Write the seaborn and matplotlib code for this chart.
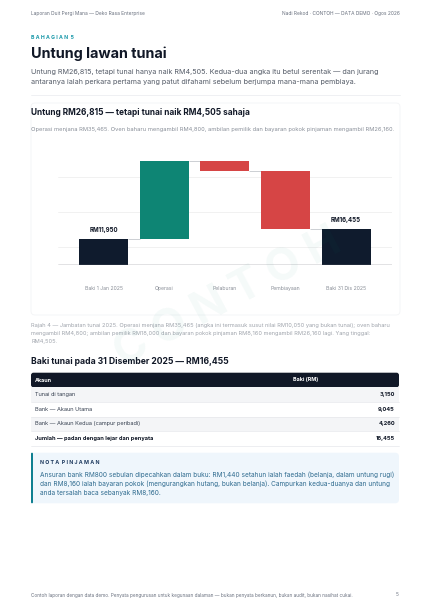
import numpy as np
import pandas as pd
import seaborn as sns
import matplotlib.pyplot as plt
from matplotlib.patches import FancyBboxPatch, Rectangle

# data
categories = ["Baki 1 Jan 2025", "Operasi", "Pelaburan", "Pembiayaan", "Baki 31 Dis 2025"]
changes = [11950, 35465, -4800, -26160, 16455]
kinds = ["total", "up", "down", "down", "total"]

table_accounts = ["Tunai di tangan", "Bank — Akaun Utama", "Bank — Akaun Kedua (campur peribadi)",
                  "Jumlah — padan dengan lejar dan penyata"]
table_values = ["3,150", "9,045", "4,260", "16,455"]

# waterfall bottoms / heights
running = 0
bottoms, heights, levels = [], [], []
for c, k in zip(changes, kinds):
    if k == "total":
        bottoms.append(0)
        heights.append(c)
        running = c
    else:
        new = running + c
        bottoms.append(min(running, new))
        heights.append(abs(c))
        running = new
    levels.append(running)
wf = pd.DataFrame({"cat": categories, "h": heights, "b": bottoms, "kind": kinds})

sns.set_theme(style="white")
plt.rcParams['font.family'] = ['Inter', 'DejaVu Sans']

W, H = 430, 609
fig = plt.figure(figsize=(W / 100, H / 100), dpi=100)
fig.patch.set_facecolor("white")

bg = fig.add_axes([0, 0, 1, 1])
bg.set_xlim(0, W)
bg.set_ylim(H, 0)
bg.axis("off")
bg.set_zorder(0)

DARK = "#111827"
TEAL = "#1697a8"


def txt(x, y, s, size, color=DARK, weight="normal", ha="left", **kw):
    bg.text(x, y, s, fontsize=size, color=color, fontweight=weight, ha=ha, va="center", **kw)


# page header
txt(31, 13.5, "Laporan Duit Pergi Mana — Deko Rasa Enterprise", 3.5, "#6b7280")
txt(400, 13.5, "Nadi Rekod · CONTOH — DATA DEMO · Ogos 2026", 3.5, "#6b7280", ha="right")
txt(31, 37.7, "B A H A G I A N  5", 3.7, TEAL, "bold")
txt(31, 54, "Untung lawan tunai", 10.4, DARK, "bold")
txt(31, 71.7, "Untung RM26,815, tetapi tunai hanya naik RM4,505. Kedua-dua angka itu betul serentak — dan jurang",
    5.2, "#555c68")
txt(31, 81.7, "antaranya ialah perkara pertama yang patut difahami sebelum berjumpa mana-mana pembiaya.",
    5.2, "#555c68")
bg.plot([31, 400], [94.5, 94.5], color="#eceef1", lw=0.6)

# chart card
bg.add_patch(FancyBboxPatch((31, 103), 369, 212, boxstyle="round,pad=0,rounding_size=4",
                            facecolor="white", edgecolor="#f3f4f6", lw=0.6))
txt(31, 112.7, "Untung RM26,815 — tetapi tunai naik RM4,505 sahaja", 6.0, DARK, "bold")
txt(31, 130, "Operasi menjana RM35,465. Oven baharu mengambil RM4,800, ambilan pemilik dan bayaran pokok "
             "pinjaman mengambil RM26,160.", 4.15, "#8a909a")

# waterfall
ax = fig.add_axes([58 / W, 1 - 265 / H, 334 / W, 125 / H])
ax.set_zorder(1)
ax.patch.set_alpha(0)
sns.barplot(data=wf, x="cat", y="h", bottom=wf["b"], width=0.81, errorbar=None,
            color="#0f1b2d", ax=ax, zorder=3)
colors = {"total": "#0f1b2d", "up": "#0e8574", "down": "#d64545"}
for p, k in zip(ax.patches, kinds):
    p.set_facecolor(colors[k])
    p.set_edgecolor("none")

bw = 0.81
for i in range(len(categories) - 1):
    ax.hlines(levels[i], i + bw / 2, i + 1 - bw / 2, color="#c4c7cc", lw=0.6, zorder=2)

for i in [0, len(categories) - 1]:
    ax.annotate(f"RM{heights[i]:,}", (i, bottoms[i] + heights[i]), xytext=(0, 4),
                textcoords="offset points", ha="center", va="bottom",
                fontsize=4.4, fontweight="bold", color=DARK)

ax.set_xlim(-0.754, 4.757)
ax.set_ylim(0, 56800)
ax.set_yticks([8000, 24000, 40000])
ax.set_yticklabels([])
ax.grid(axis="y", color="#efefef", lw=0.6, zorder=0)
ax.axhline(0, color="#6b6f76", lw=1.0, zorder=4)
sns.despine(ax=ax, left=True, bottom=True)
ax.set_xlabel("")
ax.set_ylabel("")
ax.tick_params(axis="x", length=0, pad=15, labelsize=3.7, labelcolor="#8a8f98")
ax.tick_params(axis="y", length=0)

# caption
cap = "#a0a5ad"
txt(31, 325.7, "Rajah 4 — Jambatan tunai 2025. Operasi menjana RM35,465 (angka ini termasuk susut nilai RM10,050 "
               "yang bukan tunai); oven baharu", 4.08, cap)
txt(31, 334, "mengambil RM4,800; ambilan pemilik RM18,000 dan bayaran pokok pinjaman RM8,160 mengambil "
             "RM26,160 lagi. Yang tinggal:", 4.08, cap)
txt(31, 342, "RM4,505.", 4.08, cap)

# table
txt(31, 361.7, "Baki tunai pada 31 Disember 2025 — RM16,455", 6.2, DARK, "bold")
bg.add_patch(FancyBboxPatch((31, 372.7), 368, 14.6, boxstyle="round,pad=0,rounding_size=2.5",
                            facecolor="#111827", edgecolor="none"))
txt(35, 380, "Akaun", 3.9, "white", "bold")
txt(293, 380, "Baki (RM)", 3.9, "white", "bold")
row_h = 14.6
for i, (acc, val) in enumerate(zip(table_accounts, table_values)):
    y0 = 387.3 + i * row_h
    fc = "#f4f5f7" if i % 2 == 0 else "white"
    bg.add_patch(Rectangle((31, y0), 368, row_h, facecolor=fc, edgecolor="none"))
    bg.plot([31, 399], [y0 + row_h, y0 + row_h], color="#e6e8eb", lw=0.5)
    last = i == len(table_accounts) - 1
    txt(35, y0 + row_h / 2, acc, 4.05, DARK if last else "#374151", "bold" if last else "normal")
    txt(395, y0 + row_h / 2, val, 4.05, DARK, "bold", ha="right")

# note box
bg.add_patch(FancyBboxPatch((31, 452.7), 368, 50.6, boxstyle="round,pad=0,rounding_size=4",
                            facecolor="#eff6fc", edgecolor="none"))
bg.add_patch(FancyBboxPatch((31, 452.7), 2, 50.6, boxstyle="round,pad=0,rounding_size=1",
                            facecolor="#0e7f91", edgecolor="none"))
txt(40, 462.7, "N O T A  P I N J A M A N", 3.8, "#1e3a5f", "bold")
note = "#2f6b8f"
txt(40, 474.7, "Ansuran bank RM800 sebulan dipecahkan dalam buku: RM1,440 setahun ialah faedah (belanja, "
               "dalam untung rugi)", 4.68, note)
txt(40, 484, "dan RM8,160 ialah bayaran pokok (mengurangkan hutang, bukan belanja). Campurkan kedua-duanya "
             "dan untung", 4.68, note)
txt(40, 493.3, "anda tersalah baca sebanyak RM8,160.", 4.68, note)

# footer
txt(31, 595, "Contoh laporan dengan data demo. Penyata pengurusan untuk kegunaan dalaman — bukan penyata "
             "berkanun, bukan audit, bukan nasihat cukai.", 3.4, "#6b7280")
txt(399, 595, "5", 3.4, "#6b7280", ha="right")

# watermark
fig.text(228 / W, 1 - 298 / H, "C O N T O H", fontsize=32, fontweight="bold", color="#0e8574",
         alpha=0.045, rotation=28, ha="center", va="center", zorder=10)

fig.savefig("out.png", dpi=100, facecolor="white")
